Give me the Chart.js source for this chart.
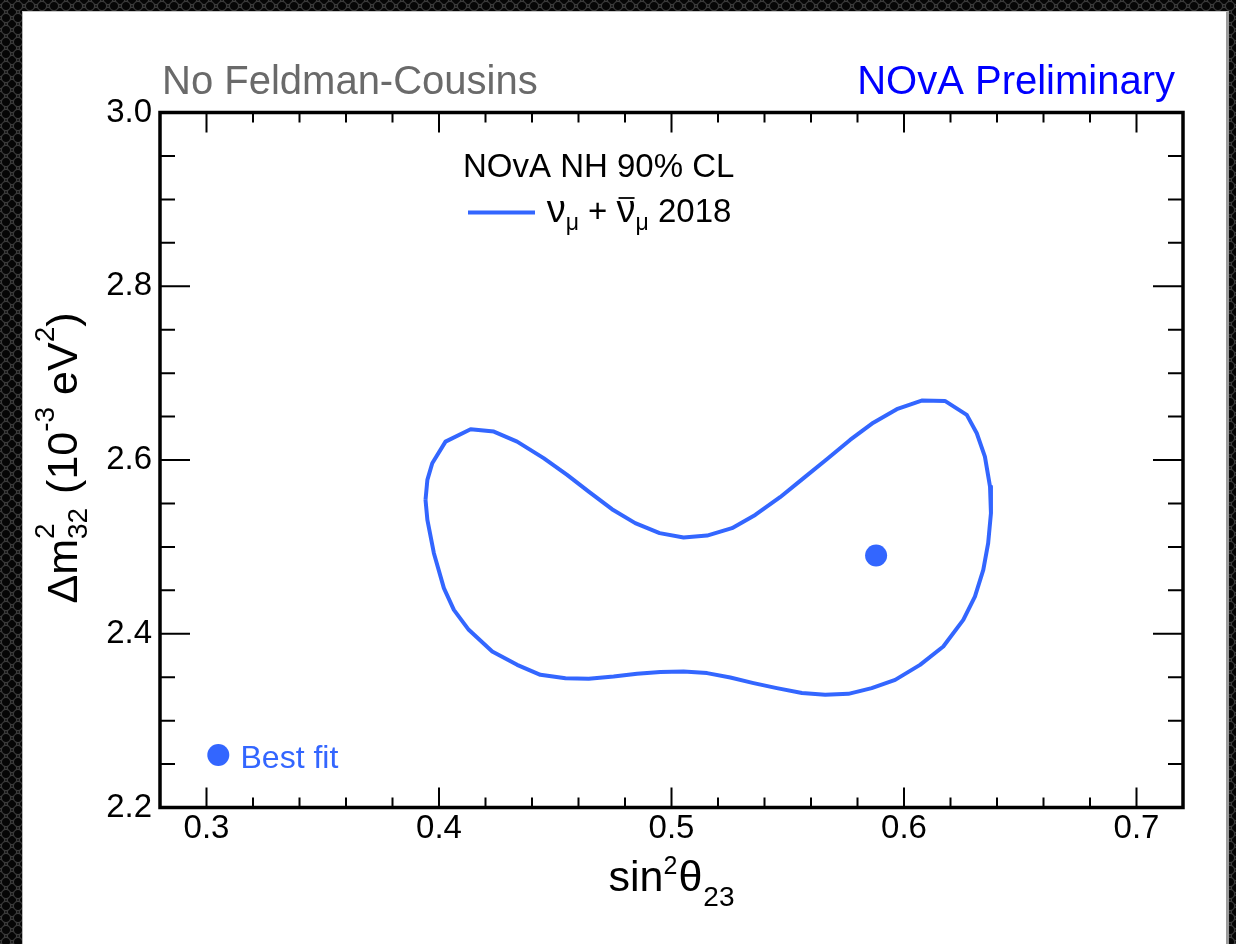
<!DOCTYPE html>
<html>
<head>
<meta charset="utf-8">
<script src="https://cdn.jsdelivr.net/npm/chart.js@4.4.1/dist/chart.umd.min.js"></script>
<style>
html,body{margin:0;padding:0;width:1236px;height:944px;overflow:hidden;}
body{
  background-color:#1e1e1e;
  background-image:
    radial-gradient(circle at 6px 6px,#060606 0,#060606 3.5px,#3c3c3c 4.5px,rgba(0,0,0,0) 5.5px),
    radial-gradient(circle at 6px 6px,#060606 0,#060606 3.5px,#3c3c3c 4.5px,rgba(0,0,0,0) 5.5px);
  background-size:12px 12px,12px 12px;
  background-position:0 0,6px 6px;
}
#panel{position:absolute;left:22px;top:11px;width:1203px;height:960px;background:#fff;
  border-left:1px solid #b8b8b8;border-top:1px solid #c8c8c8;border-right:3px solid #9a9a9a;}
#c{position:absolute;left:0;top:0;}
</style>
</head>
<body>
<div id="panel"></div>
<canvas id="c" width="1236" height="944"></canvas>
<script>
// ---------- data ----------
const xTicks = [0.3, 0.4, 0.5, 0.6, 0.7];
const xTickLabels = ['0.3', '0.4', '0.5', '0.6', '0.7'];
const yTicks = [2.2, 2.4, 2.6, 2.8, 3.0];
const yTickLabels = ['2.2', '2.4', '2.6', '2.8', '3.0'];

// NOvA NH 90% CL contour, nu_mu + anti-nu_mu 2018 (sin^2 theta23, dm^2_32 [1e-3 eV^2])
const contourX = [0.3942,0.3950,0.3971,0.4028,0.4136,0.4236,0.4336,0.4450,0.4551,0.4644,
  0.4744,0.4844,0.4949,0.5052,0.5153,0.5260,0.5360,0.5467,0.5568,0.5668,
  0.5768,0.5868,0.5969,0.6076,0.6176,0.6270,0.6313,0.6348,0.6370,0.6374,
  0.6362,0.6341,0.6305,0.6255,0.6169,0.6069,0.5962,0.5861,0.5761,0.5661,
  0.5561,0.5453,0.5353,0.5253,0.5153,0.5052,0.4952,0.4852,0.4751,0.4644,
  0.4544,0.4436,0.4336,0.4229,0.4128,0.4064,0.4021,0.3978,0.3950,0.3942];
const contourY = [2.5541,2.5771,2.5963,2.6212,2.6354,2.6327,2.6212,2.6021,2.5829,2.5636,
  2.5434,2.5273,2.5158,2.5107,2.5130,2.5215,2.5368,2.5572,2.5791,2.6009,
  2.6231,2.6430,2.6585,2.6684,2.6680,2.6519,2.6308,2.6039,2.5694,2.5388,
  2.5043,2.4735,2.4428,2.4160,2.3853,2.3642,2.3469,2.3374,2.3308,2.3297,
  2.3317,2.3374,2.3432,2.3496,2.3547,2.3565,2.3561,2.3539,2.3507,2.3481,
  2.3489,2.3527,2.3642,2.3795,2.4045,2.4275,2.4525,2.4927,2.5311,2.5541];

const bestFitX = [0.588];
const bestFitY = [2.490];

// ---------- style ----------
const BLUE = '#3366ff';
const FONT = '"Liberation Sans", Arial, Helvetica, sans-serif';
const fnt = (s) => s + 'px ' + FONT;

function rich(ctx, parts, x, y, align) {
  const widths = parts.map(p => {
    const items = p.stack || [p];
    return Math.max(...items.map(q => { ctx.font = fnt(q.s); return ctx.measureText(q.t).width; })) + (p.gap || 0);
  });
  const total = widths.reduce((a, b) => a + b, 0);
  let cx = align === 'center' ? x - total / 2 : (align === 'right' ? x - total : x);
  ctx.textAlign = 'left';
  ctx.textBaseline = 'alphabetic';
  parts.forEach((p, i) => {
    const items = p.stack || [p];
    items.forEach(q => {
      ctx.font = fnt(q.s);
      const yy = y + (q.dy || 0);
      ctx.fillText(q.t, cx, yy);
      if (q.bar) {
        const w = ctx.measureText(q.t).width;
        ctx.save();
        ctx.lineWidth = 1.8;
        ctx.strokeStyle = ctx.fillStyle;
        ctx.beginPath();
        ctx.moveTo(cx + 2, yy - q.bar);
        ctx.lineTo(cx + w - 1, yy - q.bar);
        ctx.stroke();
        ctx.restore();
      }
    });
    cx += widths[i];
  });
}

const decor = {
  id: 'decor',
  afterDraw(chart) {
    const ctx = chart.ctx;
    const a = chart.chartArea;
    const xs = chart.scales.x, ys = chart.scales.y;
    ctx.save();
    // inward ticks
    ctx.strokeStyle = '#000';
    ctx.lineWidth = 2;
    ctx.beginPath();
    for (let k = 0; k <= 22; k++) {
      const v = xs.min + k * 0.02;
      const px = xs.getPixelForValue(v);
      const major = Math.abs(v * 10 - Math.round(v * 10)) < 1e-6;
      const L = major ? 20 : 10;
      ctx.moveTo(px, a.bottom); ctx.lineTo(px, a.bottom - L);
      ctx.moveTo(px, a.top); ctx.lineTo(px, a.top + L);
    }
    for (let k = 0; k <= 16; k++) {
      const v = ys.min + k * 0.05;
      const py = ys.getPixelForValue(v);
      const major = k % 4 === 0;
      const L = major ? 30 : 15;
      ctx.moveTo(a.left, py); ctx.lineTo(a.left + L, py);
      ctx.moveTo(a.right, py); ctx.lineTo(a.right - L, py);
    }
    ctx.stroke();
    // frame
    ctx.lineWidth = 3.5;
    ctx.strokeRect(a.left, a.top, a.right - a.left, a.bottom - a.top);

    // axis titles
    ctx.fillStyle = '#000';
    rich(ctx, [
      {t: 'sin', s: 43},
      {t: '2', s: 25, dy: -17, gap: 1},
      {t: 'θ', s: 43, gap: 1},
      {t: '23', s: 28, dy: 15}
    ], (a.left + a.right) / 2, a.bottom + 83, 'center');

    ctx.save();
    ctx.translate(a.left - 83, (a.top + a.bottom) / 2 - 2);
    ctx.rotate(-Math.PI / 2);
    rich(ctx, [
      {t: 'Δm', s: 43},
      {stack: [{t: '2', s: 28, dy: -23}, {t: '32', s: 28, dy: 10}], gap: 2},
      {t: ' (10', s: 43},
      {t: '-3', s: 28, dy: -23},
      {t: ' eV', s: 43},
      {t: '2', s: 28, dy: -23},
      {t: ')', s: 43}
    ], 0, 0, 'center');
    ctx.restore();

    // header texts
    ctx.font = fnt(40);
    ctx.textBaseline = 'alphabetic';
    ctx.fillStyle = '#6a6a6a';
    ctx.textAlign = 'left';
    ctx.fillText('No Feldman-Cousins', a.left + 2, 94);
    ctx.fillStyle = '#0000ff';
    ctx.textAlign = 'right';
    ctx.fillText('NOvA Preliminary', a.right - 8, 94);

    // legend
    ctx.fillStyle = '#000';
    ctx.textAlign = 'left';
    ctx.font = fnt(33);
    ctx.fillText('NOvA NH 90% CL', a.left + 303, a.top + 64.5);
    ctx.strokeStyle = BLUE;
    ctx.lineWidth = 4;
    ctx.beginPath();
    ctx.moveTo(a.left + 308, a.top + 100);
    ctx.lineTo(a.left + 375, a.top + 100);
    ctx.stroke();
    rich(ctx, [
      {t: 'ν', s: 38},
      {t: 'μ', s: 23, dy: 8},
      {t: ' + ', s: 33},
      {t: 'ν', s: 38, bar: 24},
      {t: 'μ', s: 23, dy: 8},
      {t: ' 2018', s: 33}
    ], a.left + 386.7, a.top + 109.5, 'left');

    // best fit marker legend
    ctx.fillStyle = BLUE;
    ctx.beginPath();
    ctx.arc(a.left + 58.3, a.top + 642.5, 11, 0, Math.PI * 2);
    ctx.fill();
    ctx.font = fnt(32);
    ctx.textAlign = 'left';
    ctx.fillText('Best fit', a.left + 80.5, a.top + 655.8);
    ctx.restore();
  }
};

const tickFont = {family: FONT, size: 33};
new Chart(document.getElementById('c'), {
  type: 'scatter',
  data: {
    datasets: [
      {
        label: 'νμ + ν̄μ 2018',
        data: contourX.map((x, i) => ({x: x, y: contourY[i]})),
        showLine: true,
        borderColor: BLUE,
        borderWidth: 4,
        borderJoinStyle: 'round',
        pointRadius: 0,
        fill: false,
        tension: 0
      },
      {
        label: 'Best fit',
        data: bestFitX.map((x, i) => ({x: x, y: bestFitY[i]})),
        showLine: false,
        pointRadius: 11,
        pointBackgroundColor: BLUE,
        pointBorderWidth: 0
      }
    ]
  },
  options: {
    responsive: false,
    animation: false,
    devicePixelRatio: 1,
    layout: {padding: {top: 112.5, right: 53, left: 0, bottom: 0}},
    plugins: {legend: {display: false}, tooltip: {enabled: false}},
    scales: {
      x: {
        type: 'linear', min: 0.28, max: 0.72,
        grid: {display: false, drawTicks: false, tickLength: 0}, border: {display: false},
        afterBuildTicks: s => { s.ticks = xTicks.map(v => ({value: v})); },
        afterFit: s => { s.height = 136.5; },
        ticks: {
          autoSkip: false, maxRotation: 0, padding: 2, color: '#000', font: tickFont,
          callback: v => { const i = xTicks.findIndex(t => Math.abs(t - v) < 1e-9); return i >= 0 ? xTickLabels[i] : ''; }
        }
      },
      y: {
        type: 'linear', min: 2.2, max: 3.0,
        grid: {display: false, drawTicks: false, tickLength: 0}, border: {display: false},
        afterBuildTicks: s => { s.ticks = yTicks.map(v => ({value: v})); },
        afterFit: s => { s.width = 160; },
        ticks: {
          autoSkip: false, padding: 8, color: '#000', font: tickFont,
          callback: v => { const i = yTicks.findIndex(t => Math.abs(t - v) < 1e-9); return i >= 0 ? yTickLabels[i] : ''; }
        }
      }
    }
  },
  plugins: [decor]
});
</script>
</body>
</html>
